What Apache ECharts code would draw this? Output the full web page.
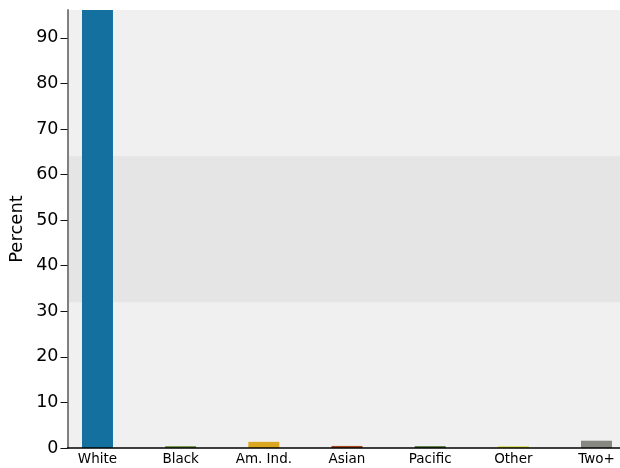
<!DOCTYPE html>
<html>
<head>
<meta charset="utf-8">
<script src="https://cdn.jsdelivr.net/npm/echarts@6/dist/echarts.min.js"></script>
<style>html,body{margin:0;padding:0;background:#fff;}#c{width:620px;height:468px;}</style>
</head>
<body>
<div id="c"></div>
<script>
var categories = ["White", "Black", "Am. Ind.", "Asian", "Pacific", "Other", "Two+"];
var values = [97, 0.4, 1.35, 0.45, 0.4, 0.35, 1.6];
var colors = ["#13709f", "#5e8c31", "#dba621", "#a4471d", "#3d6b2a", "#cdd41e", "#888883"];
var yTicks = [0, 10, 20, 30, 40, 50, 60, 70, 80, 90];
var band = [32, 64];
var yMax = 96.1;

var FONT = "DejaVu Sans";
var chart = echarts.init(document.getElementById('c'), null, {renderer: 'canvas'});
var option = {
  animation: false,
  grid: [
    {left: 55.9, width: 582.2, top: 10, bottom: 20, containLabel: false, outerBoundsMode: 'none'},
    {left: 67.5, right: 0, top: 10, bottom: 20, containLabel: false, outerBoundsMode: 'none', show: true, backgroundColor: '#f0f0f0', borderWidth: 0}
  ],
  xAxis: [
    {
      gridIndex: 0,
      type: 'category',
      data: categories,
      boundaryGap: true,
      axisLine: {show: false},
      axisTick: {show: false},
      axisLabel: {fontFamily: FONT, fontSize: 13.5, color: '#000', margin: 4, interval: 0}
    },
    {
      gridIndex: 1,
      type: 'value', min: 0, max: 1, z: 10,
      axisLine: {show: true, onZero: false, lineStyle: {color: '#000', width: 1.5}},
      axisTick: {show: false},
      axisLabel: {show: false},
      splitLine: {show: false}
    }
  ],
  yAxis: [
    {
      gridIndex: 0,
      type: 'value', min: 0, max: yMax,
      show: false
    },
    {
      gridIndex: 1,
      type: 'value', z: 10,
      min: 0, max: yMax,
      name: 'Percent',
      nameLocation: 'middle',
      nameGap: 41,
      nameMoveOverlap: false,
      nameTextStyle: {fontFamily: FONT, fontSize: 18, color: '#000'},
      axisLine: {show: true, lineStyle: {color: '#808080', width: 2}},
      axisTick: {show: true, length: 7, customValues: yTicks, lineStyle: {color: '#111', width: 1}},
      axisLabel: {fontFamily: FONT, fontSize: 17.5, color: '#000', margin: 9, customValues: yTicks},
      splitLine: {show: false}
    }
  ],
  series: [
    {
      type: 'line', xAxisIndex: 1, yAxisIndex: 1, data: [], silent: true, z: -1,
      markArea: {silent: true, itemStyle: {color: '#e5e5e5'}, data: [[{yAxis: band[0]}, {yAxis: band[1]}]]}
    },
    {
      type: 'bar', xAxisIndex: 0, yAxisIndex: 0,
      barWidth: 31,
      data: values.map(function (v, i) { return {value: v, itemStyle: {color: colors[i]}}; })
    }
  ]
};
chart.setOption(option);
</script>
</body>
</html>
